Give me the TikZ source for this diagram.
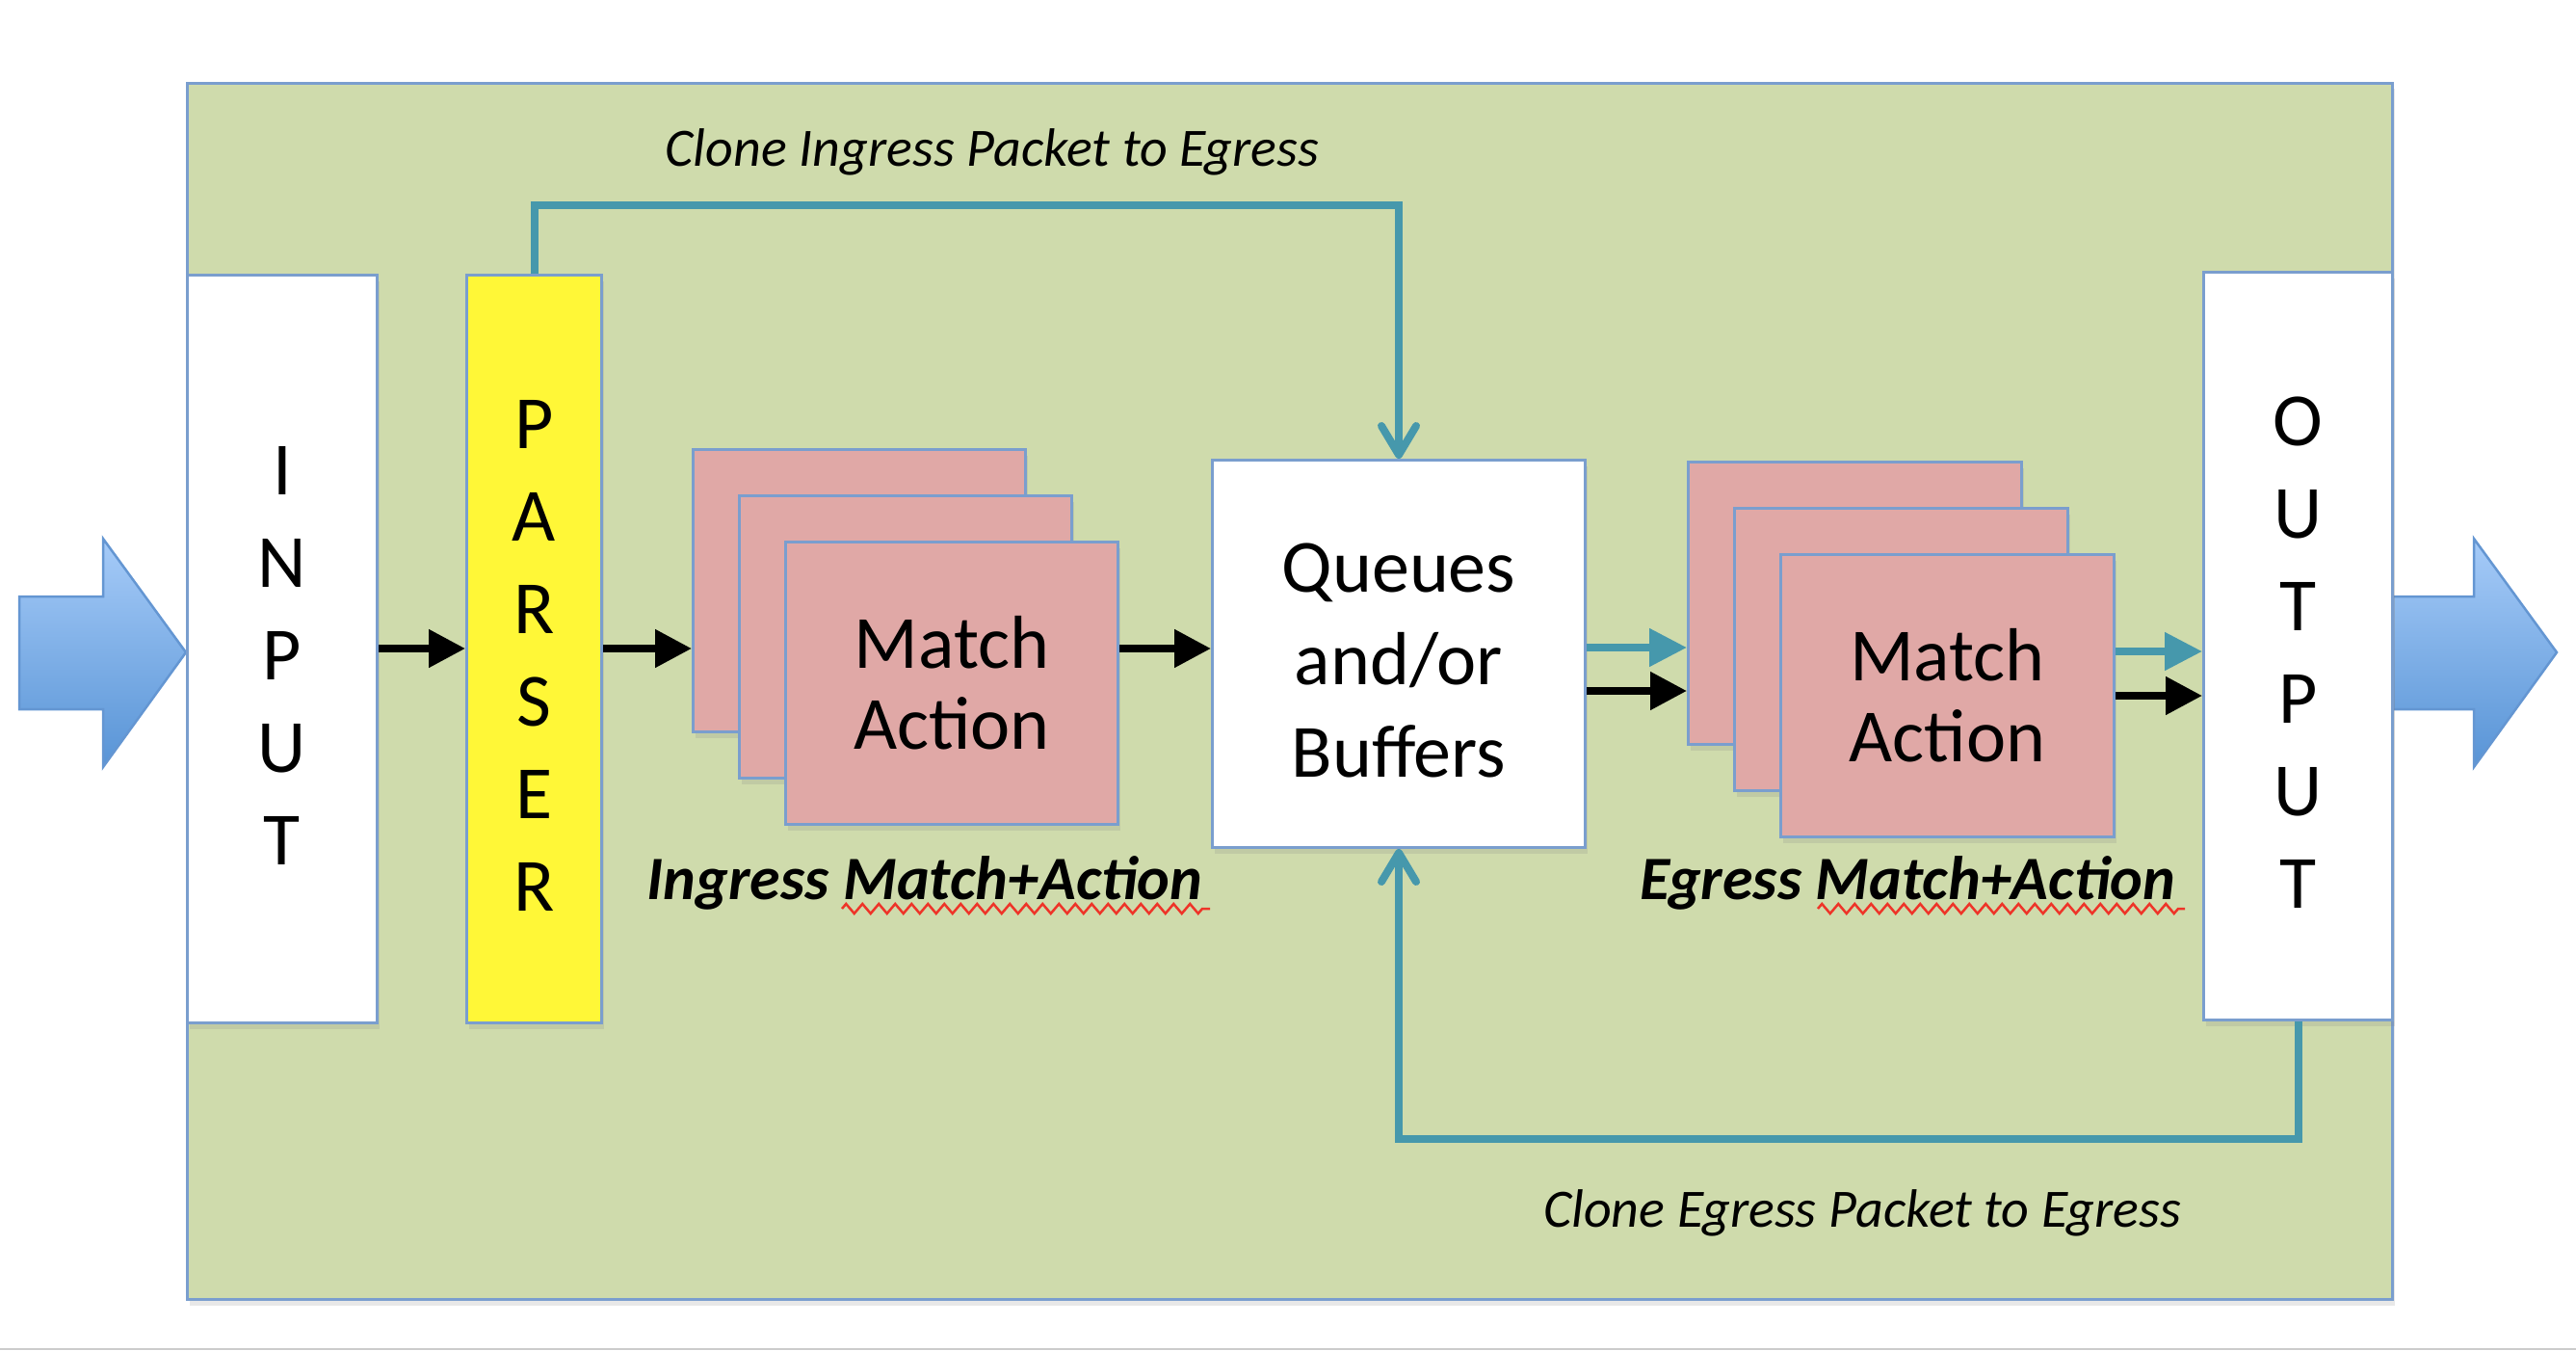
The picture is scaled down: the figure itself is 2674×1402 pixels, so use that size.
\documentclass[tikz,border=0pt]{standalone}
\usepackage{fontspec}
\setmainfont{Carlito}
\usetikzlibrary{arrows.meta,shadows,decorations.pathmorphing,calc}
\definecolor{framegreen}{RGB}{207,219,172}
\definecolor{edgeblue}{RGB}{122,158,206}
\definecolor{boxpink}{RGB}{224,168,166}
\definecolor{parseryellow}{RGB}{255,247,55}
\definecolor{cloneteal}{RGB}{70,152,172}
\definecolor{arrowtop}{RGB}{166,203,248}
\definecolor{arrowbot}{RGB}{88,148,214}
\definecolor{arrowedge}{RGB}{100,150,210}
\definecolor{squiggle}{RGB}{238,52,40}
\begin{document}
\begin{tikzpicture}[x=1pt,y=-1pt,
  softshadow/.style={drop shadow={shadow xshift=2pt,shadow yshift=-6pt,opacity=0.18}},
  box/.style={draw=edgeblue, line width=3pt, inner sep=0pt, anchor=north west, softshadow, align=center},
  boxtext/.style={inner sep=0pt, align=center, yshift=-7pt, font=\fontsize{78}{96}\selectfont},
  mafont/.style={font=\fontsize{78}{84}\selectfont},
  blk/.style={line width=8pt, -{Triangle[length=38pt,width=38pt]}},
  tealarr/.style={line width=8pt, cloneteal, -{Triangle[length=39pt,width=38pt]}},
  clone/.style={line width=8pt, cloneteal, -{Straight Barb[length=30pt,width=36pt,round]}},
  lbl/.style={inner sep=0pt, anchor=base, font=\fontsize{56}{60}\selectfont\itshape},
  blbl/.style={inner sep=0pt, anchor=base, font=\fontsize{64}{68}\selectfont\bfseries\itshape},
  squiggly/.style={squiggle, line width=2.5pt, decorate, decoration={zigzag, segment length=17pt, amplitude=5pt}},
  blockarrow/.style={draw=arrowedge, line width=2.5pt, top color=arrowtop, bottom color=arrowbot}
]
\useasboundingbox (0,0) rectangle (2674,1402);
\draw[gray!40, line width=2pt] (0,1400) -- (2674,1400);

% block arrows (drawn first so the frame covers their joints)
\path[blockarrow] (20,619) -- (107,619) -- (107,559) -- (193,677) -- (107,796) -- (107,736) -- (20,736) -- cycle;
\path[blockarrow] (2482,619) -- (2568,619) -- (2568,559) -- (2654,677) -- (2568,796) -- (2568,736) -- (2482,736) -- cycle;

% frame
\node[box, fill=framegreen, minimum width=2289pt, minimum height=1262pt] (frame) at (193,85) {};

% components
\node[box, fill=white, minimum width=197pt, minimum height=776pt] (input) at (193,284) {};
\node[boxtext] (inputtxt) at (input.center) {I\\N\\P\\U\\T};
\node[box, fill=parseryellow, minimum width=140pt, minimum height=776pt] (parser) at (483,284) {};
\node[boxtext] (parsertxt) at (parser.center) {P\\A\\R\\S\\E\\R};

\node[box, fill=boxpink, minimum width=345pt, minimum height=293pt] (im1) at (718,465) {};
\node[box, fill=boxpink, minimum width=345pt, minimum height=293pt] (im2) at (766,513) {};
\node[box, fill=boxpink, mafont, minimum width=345pt, minimum height=293pt] (im3) at (814,561) {Match\\Action};

\node[box, fill=white, minimum width=387pt, minimum height=402pt] (queues) at (1257,476) {};
\node[boxtext] (queuestxt) at (queues.center) {Queues\\and/or\\Buffers};

\node[box, fill=boxpink, minimum width=346pt, minimum height=293pt] (em1) at (1751,478) {};
\node[box, fill=boxpink, minimum width=346pt, minimum height=293pt] (em2) at (1799,526) {};
\node[box, fill=boxpink, mafont, minimum width=346pt, minimum height=293pt] (em3) at (1847,574) {Match\\Action};

\node[box, fill=white, minimum width=196pt, minimum height=776pt] (output) at (2286,281) {};
\node[boxtext] (outputtxt) at (output.center) {O\\U\\T\\P\\U\\T};

% level coordinates
\coordinate (ymain) at (0,673);
\coordinate (yteal1) at (0,672);
\coordinate (yblk1) at (0,717);
\coordinate (yteal2) at (0,676);
\coordinate (yblk2) at (0,722);
\coordinate (ytop) at (0,213);
\coordinate (ybot) at (0,1182);

% black data-path arrows
\draw[blk] (input.east |- ymain) -- (parser.west |- ymain);
\draw[blk] (parser.east |- ymain) -- (im1.west |- ymain);
\draw[blk] (im3.east |- ymain) -- (queues.west |- ymain);
\draw[tealarr] (queues.east |- yteal1) -- (em1.west |- yteal1);
\draw[blk] (queues.east |- yblk1) -- (em1.west |- yblk1);
\draw[tealarr] (em3.east |- yteal2) -- (output.west |- yteal2);
\draw[blk] (em3.east |- yblk2) -- (output.west |- yblk2);

% clone paths
\draw[clone] (parser.north) -- (parser.north |- ytop) -| (queues.north);
\draw[clone] (output.south) -- (output.south |- ybot) -| (queues.south);

% labels
\node[lbl] (cil) at (1030,172) {Clone Ingress Packet to Egress};
\node[lbl] (cel) at (1933,1273) {Clone Egress Packet to Egress};
\node[blbl] (iml) at (960,933) {Ingress Match+Action};
\node[blbl] (eml) at (1980,933) {Egress Match+Action};

% spell-check squiggles
\draw[squiggly] (874,943) -- (1256,943);
\draw[squiggly] (1887,943) -- (2268,943);
\end{tikzpicture}
\end{document}
